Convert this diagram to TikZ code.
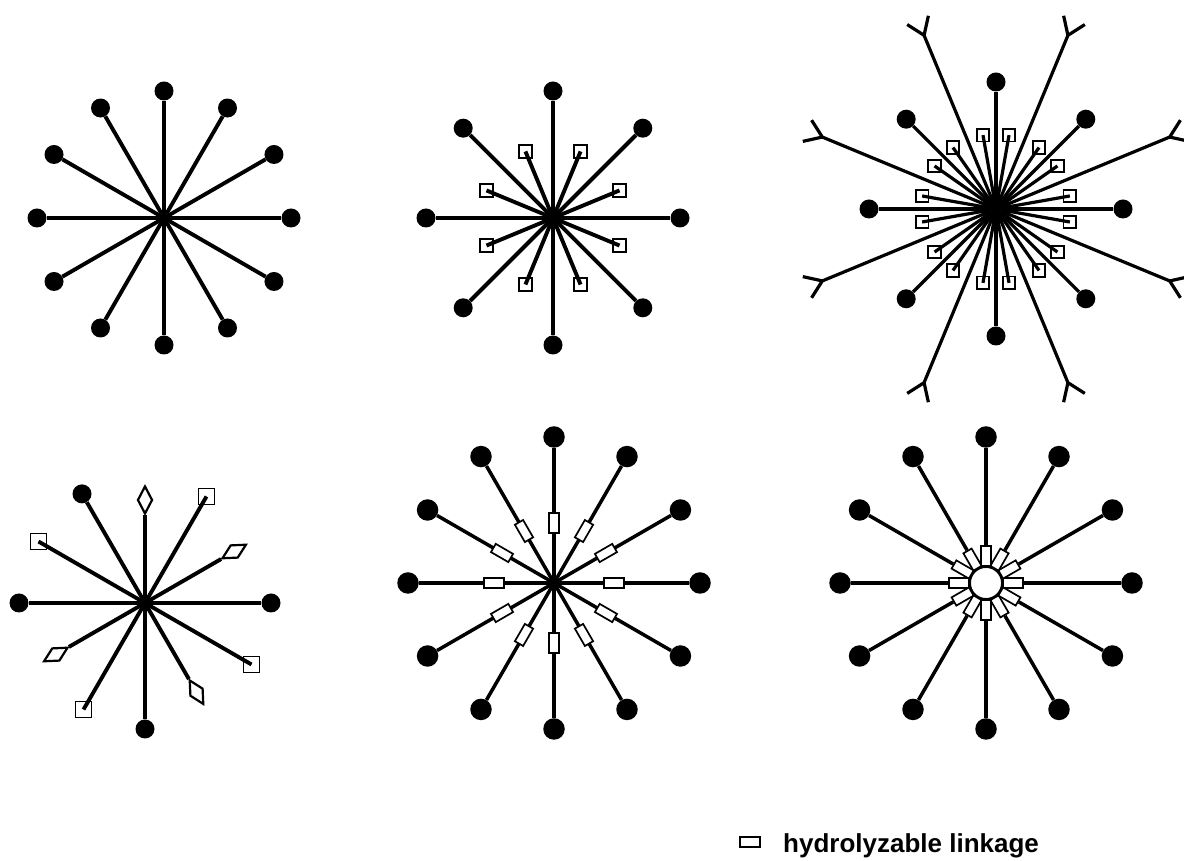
\documentclass[tikz,border=0pt]{standalone}
\usepackage{fontspec}
\setmainfont{Liberation Sans}
\usetikzlibrary{shapes.geometric,calc}

\begin{document}
\begin{tikzpicture}[
    x=1pt, y=1pt,
    arm/.style={line width=3.9pt, black},
    midarm/.style={line width=3.5pt, black},
    thinarm/.style={line width=3.2pt, black},
    fork/.style={line width=3.2pt, black, line join=round},
    blob/.style={circle, fill=black, inner sep=0pt, minimum size=19pt},
    bigblob/.style={blob, minimum size=21.5pt},
    sqbox/.style={draw, line width=1.7pt, inner sep=0pt, minimum size=13pt},
    link/.style={draw, line width=1.7pt, fill=white, inner sep=0pt,
                 minimum width=20pt, minimum height=9.5pt},
    rhomb/.style={draw, diamond, aspect=2, line width=2.2pt, fill=white,
                  inner sep=0pt, minimum width=28pt, minimum height=15pt},
    core/.style={draw, circle, line width=1.9pt, fill=white, inner sep=0pt,
                 minimum size=32pt},
    legend/.style={font=\fontsize{26}{30}\selectfont\bfseries, inner sep=0pt},
  ]
  \useasboundingbox (0,0) rectangle (1184,861);

  % --- star centres ---
  \coordinate (c1) at (164,643);
  \coordinate (c2) at (553,643);
  \coordinate (c3) at (996,652);
  \coordinate (c4) at (145,258);
  \coordinate (c5) at (554,278);
  \coordinate (c6) at (986,278);

  % --- star 1: twelve plain arms ---
  \foreach \a [count=\i] in {0,30,...,330} {
    \node[blob] (s1-\i) at ([shift={(\a:127)}]c1) {};
    \draw[arm] (c1) -- (s1-\i);
  }

  % --- star 2: eight long arms + eight short arms with squares ---
  \foreach \a [count=\i] in {0,45,...,315} {
    \node[blob] (s2-\i) at ([shift={(\a:127)}]c2) {};
    \draw[arm] (c2) -- (s2-\i);
  }
  \foreach \a [count=\i] in {22.5,67.5,...,337.5} {
    \node[sqbox] (q2-\i) at ([shift={(\a:72)}]c2) {};
    \draw[arm] (c2) -- (q2-\i.center);
  }

  % --- star 3: dots, forked arms and sixteen squares ---
  \foreach \a [count=\i] in {0,45,...,315} {
    \node[blob] (s3-\i) at ([shift={(\a:127)}]c3) {};
    \draw[thinarm] (c3) -- (s3-\i);
  }
  \foreach \a [count=\i] in {22.5,67.5,...,337.5} {
    \path (c3) ++(\a:188) coordinate (f3-\i);
    \path (f3-\i) ++(\a+35:20) coordinate (fl3-\i);
    \path (f3-\i) ++(\a-35:20) coordinate (fr3-\i);
    \draw[fork] (c3) -- (f3-\i) (fl3-\i) -- (f3-\i) -- (fr3-\i);
  }
  \foreach \a [count=\i] in {10,35,55,80,100,125,145,170,
                             190,215,235,260,280,305,325,350} {
    \node[sqbox, minimum size=12.5pt] (q3-\i) at ([shift={(\a:75)}]c3) {};
    \draw[thinarm] (c3) -- (q3-\i.center);
  }
  \node[blob, minimum size=24pt] (hub3) at (c3) {};

  % --- star 4: mixed end groups ---
  \foreach \a [count=\i] in {0,120,180,270} {
    \node[blob] (s4-\i) at ([shift={(\a:126)}]c4) {};
    \draw[arm] (c4) -- (s4-\i);
  }
  \foreach \a [count=\i] in {60,150,240,330} {
    \node[sqbox, minimum size=16pt] (q4-\i) at ([shift={(\a:123)}]c4) {};
    \draw[arm] (c4) -- (q4-\i.center);
  }
  \foreach \a [count=\i] in {30,90,210,300} {
    \node[rhomb, rotate=\a] (d4-\i) at ([shift={(\a:103)}]c4) {};
    \draw[arm] (c4) -- (d4-\i);
  }

  % --- star 5: linkage half way along each arm ---
  \foreach \a [count=\i] in {0,30,...,330} {
    \node[bigblob] (s5-\i) at ([shift={(\a:146)}]c5) {};
    \draw[midarm] (c5) -- (s5-\i);
    \node[link, rotate=\a] (l5-\i) at ([shift={(\a:60)}]c5) {};
  }

  % --- star 6: linkages round a core ---
  \foreach \a [count=\i] in {0,30,...,330} {
    \node[link, rotate=\a] (l6-\i) at ([shift={(\a:27)}]c6) {};
    \node[bigblob] (s6-\i) at ([shift={(\a:146)}]c6) {};
    \draw[midarm] (l6-\i) -- (s6-\i);
  }
  \node[core] (k6) at (c6) {};

  % --- legend ---
  \node[link] (key) at (750,19) {};
  \node[legend, anchor=base west] (keytext) at (783,8) {hydrolyzable linkage};
\end{tikzpicture}
\end{document}
